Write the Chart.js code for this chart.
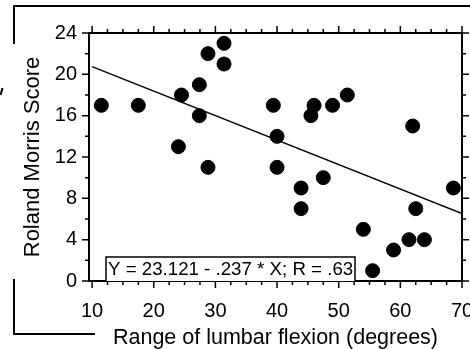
<!DOCTYPE html>
<html>
<head>
<meta charset="utf-8">
<script src="https://cdn.jsdelivr.net/npm/chart.js@4.4.1/dist/chart.umd.min.js"></script>
<style>
  html, body { margin: 0; padding: 0; background: #fff; }
  #wrap { width: 470px; height: 349px; }
</style>
</head>
<body>
<div id="wrap"><canvas id="grafica"></canvas></div>
<script>
// Range of lumbar flexion (degrees) vs Roland Morris Score
var flexion = [11.5, 17.5, 24.5, 24, 27.4, 27.4, 28.8, 28.8, 31.4, 31.4,
               39.4, 40, 40, 46, 45.5, 49, 51.4, 62, 47.5, 43.9,
               43.9, 68.6, 62.5, 54, 61.4, 63.9, 58.9, 55.5];
var rmScore = [17, 17, 18, 13, 19, 16, 22, 11, 23, 21,
               17, 14, 11, 17, 16, 17, 18, 15, 10, 9,
               7, 9, 7, 5, 4, 4, 3, 1];

// regression printed on the chart
var intercept = 23.121;
var slope = -0.237;
var fitX = [10, 70];

var xLabels = [10, 20, 30, 40, 50, 60, 70];
var yLabels = [0, 4, 8, 12, 16, 20, 24];
var xMinor = [10, 12.5, 15, 17.5, 20, 22.5, 25, 27.5, 30, 32.5, 35, 37.5, 40, 42.5, 45, 47.5, 50, 52.5, 55, 57.5, 60, 62.5, 65, 67.5, 70];
var yMinor = [0, 2, 4, 6, 8, 10, 12, 14, 16, 18, 20, 22, 24];

var FONT = "'Liberation Sans', Arial, sans-serif";

// ticks, mirror axes, equation box and the outer frame
var extras = {
    id: 'extras',
    afterDraw: function (chart) {
        var ctx = chart.ctx;
        var a = chart.chartArea;
        var sx = chart.scales.x, sy = chart.scales.y;
        ctx.save();
        ctx.strokeStyle = '#000';
        ctx.lineCap = 'butt';

        // top and right axis lines
        ctx.lineWidth = 2;
        ctx.beginPath();
        ctx.moveTo(a.left, a.top); ctx.lineTo(a.right, a.top);
        ctx.moveTo(a.right, a.top); ctx.lineTo(a.right, a.bottom);
        ctx.stroke();

        // tick marks
        ctx.lineWidth = 1.5;
        ctx.beginPath();
        xMinor.forEach(function (v) {
            var px = sx.getPixelForValue(v);
            var len = (v % 10 === 0) ? 7 : 4;
            ctx.moveTo(px, a.bottom); ctx.lineTo(px, a.bottom + len);
            ctx.moveTo(px, a.top); ctx.lineTo(px, a.top - len);
        });
        yMinor.forEach(function (v) {
            var py = sy.getPixelForValue(v);
            var len = (v % 4 === 0) ? 7 : 4;
            ctx.moveTo(a.left, py); ctx.lineTo(a.left - len, py);
            ctx.moveTo(a.right, py); ctx.lineTo(a.right + len, py);
        });
        ctx.stroke();

        // equation box
        var bx = a.left + 17, by = a.bottom - 24, bw = 249;
        ctx.fillStyle = '#fff';
        ctx.fillRect(bx, by, bw, 24);
        ctx.lineWidth = 1.5;
        ctx.beginPath();
        ctx.moveTo(bx, a.bottom); ctx.lineTo(bx, by); ctx.lineTo(bx + bw, by); ctx.lineTo(bx + bw, a.bottom);
        ctx.stroke();
        ctx.fillStyle = '#000';
        ctx.font = '18.7px ' + FONT;
        ctx.textAlign = 'left';
        ctx.textBaseline = 'alphabetic';
        ctx.fillText('Y = 23.121 - .237 * X; R = .63', bx + 2, a.bottom - 6);

        // outer frame pieces
        ctx.lineWidth = 2;
        ctx.beginPath();
        ctx.moveTo(14, 44); ctx.lineTo(14, 6); ctx.lineTo(470, 6);
        ctx.moveTo(14, 279); ctx.lineTo(14, 334); ctx.lineTo(95, 334);
        ctx.moveTo(0.5, 95); ctx.lineTo(2.5, 88);
        ctx.stroke();
        ctx.restore();
    }
};

var gx = document.getElementById('grafica').getContext('2d');
var grafica = new Chart(gx, {
    type: 'scatter',
    data: {
        datasets: [{
            label: 'Patients',
            data: flexion.map(function (v, i) { return {x: v, y: rmScore[i]}; }),
            backgroundColor: '#000',
            borderColor: '#000',
            pointRadius: 7,
            pointHoverRadius: 7
        }, {
            type: 'line',
            label: 'Fit',
            data: fitX.map(function (v) { return {x: v, y: intercept + slope * v}; }),
            borderColor: '#000',
            borderWidth: 1.5,
            pointRadius: 0,
            fill: false
        }]
    },
    options: {
        responsive: true,
        maintainAspectRatio: false,
        animation: false,
        layout: { padding: { left: 0, top: 33, right: 6, bottom: 0 } },
        plugins: { legend: { display: false }, tooltip: { enabled: false } },
        scales: {
            x: {
                type: 'linear',
                position: 'bottom',
                min: 9.5,
                max: 70,
                afterBuildTicks: function (s) { s.ticks = xLabels.map(function (v) { return {value: v}; }); },
                afterFit: function (s) { s.height = 68; s.paddingLeft = 0; s.paddingRight = 0; },
                grid: { display: true, drawOnChartArea: false, drawTicks: false },
                border: { display: true, color: '#000', width: 2 },
                ticks: { autoSkip: false, maxRotation: 0, color: '#000', padding: 18, font: { family: FONT, size: 20 } },
                title: { display: true, text: 'Range of lumbar flexion (degrees)', color: '#000',
                         padding: { top: 0, bottom: 0 }, font: { family: FONT, size: 21.5, lineHeight: 1 } }
            },
            y: {
                min: 0,
                max: 24,
                afterBuildTicks: function (s) { s.ticks = yLabels.map(function (v) { return {value: v}; }); },
                afterFit: function (s) { s.width = 89; s.paddingTop = 0; s.paddingBottom = 0; },
                grid: { display: true, drawOnChartArea: false, drawTicks: false },
                border: { display: true, color: '#000', width: 2 },
                ticks: { autoSkip: false, color: '#000', padding: 12, font: { family: FONT, size: 20 } },
                title: { display: true, text: 'Roland Morris Score', color: '#000',
                         padding: { top: 22, bottom: 0 }, font: { family: FONT, size: 22, lineHeight: 1 } }
            }
        }
    },
    plugins: [extras]
});
</script>
</body>
</html>
